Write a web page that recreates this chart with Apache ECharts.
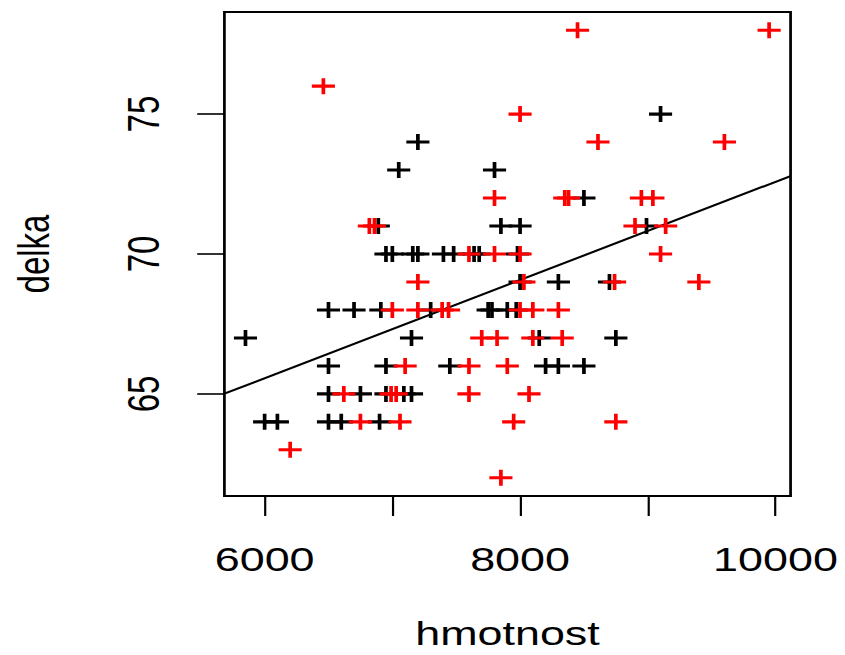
<!DOCTYPE html>
<html>
<head>
<meta charset="utf-8">
<script src="https://cdn.jsdelivr.net/npm/echarts@6/dist/echarts.min.js"></script>
<style>
html,body{margin:0;padding:0;background:#fff;overflow:hidden;}
#c{width:621.3px;height:655px;transform:scaleX(1.36);transform-origin:0 0;}
</style>
</head>
<body>
<div id="c"></div>
<script>
// black points (hmotnost, delka)
const blackX = [9100, 7200, 7050, 7800, 8500,
  6890, 7850, 8000, 8990,
  6950, 7000, 7160, 7200, 7400, 7480, 7640, 7680, 7980,
  8000, 8300, 8700,
  6500, 6700, 6910, 7300, 7750, 7780, 7900, 7970,
  5850, 7150, 8150, 8750,
  6500, 6950, 7450, 8200, 8300, 8500,
  6500, 6750, 6950, 7090, 7150,
  6000, 6100, 6500, 6600, 6900];
const blackY = [75, 74, 73, 73, 72,
  71, 71, 71, 71,
  70, 70, 70, 70, 70, 70, 70, 70, 70,
  69, 69, 69,
  68, 68, 68, 68, 68, 68, 68, 68,
  67, 67, 67, 67,
  66, 66, 66, 66, 66, 66,
  65, 65, 65, 65, 65,
  64, 64, 64, 64, 64];
// red points
const redX = [8450, 9950, 6460, 8000, 8610, 9600,
  7800, 8350, 8380, 8950, 9040,
  6820, 6860, 8900, 9140,
  7600, 7800, 8000, 9100,
  7200, 8030, 8740, 9400,
  7000, 7200, 7390, 7440, 8000, 8100, 8300,
  7700, 7820, 8100, 8330,
  7100, 7600, 7900,
  6620, 6990, 7030, 7600, 8070,
  6750, 7060, 7950, 8750,
  6200, 7850];
const redY = [78, 78, 76, 75, 74, 74,
  72, 72, 72, 72, 72,
  71, 71, 71, 71,
  70, 70, 70, 70,
  69, 69, 69, 69,
  68, 68, 68, 68, 68, 68, 68,
  67, 67, 67, 67,
  66, 66, 66,
  65, 65, 65, 65, 65,
  64, 64, 64, 64,
  63, 62];
// fitted line delka = a + b * hmotnost
const lineA = 55.03;
const lineB = 0.001755;
const xRange = [5685, 10118];
const yRange = [61.35, 78.65];
const xTicks = [6000, 7000, 8000, 9000, 10000];
const xLabels = [6000, 8000, 10000];
const yTicks = [65, 70, 75];

const pair = (xs, ys) => xs.map((x, i) => [x, ys[i]]);
const font = "'Liberation Sans', Arial, Helvetica, sans-serif";
const plus = 'path://M0,4.05H10V5.95H0Z M4.2,0H5.8V10H4.2Z';

const chart = echarts.init(document.getElementById('c'), null, {renderer: 'svg'});
chart.setOption({
  animation: false,
  grid: {left: 164.7, right: 39.7, top: 12, bottom: 153, show: true,
         borderColor: '#000', borderWidth: 2, backgroundColor: 'transparent'},
  xAxis: {
    type: 'value', min: xRange[0], max: xRange[1],
    name: 'hmotnost', nameLocation: 'middle', nameGap: 121,
    nameTextStyle: {fontFamily: font, fontSize: 33, color: '#000'},
    axisLine: {show: false},
    splitLine: {show: false},
    axisTick: {show: true, customValues: xTicks, length: 20, lineStyle: {color: '#000', width: 1.6}},
    axisLabel: {customValues: xLabels, margin: 47, fontFamily: font, fontSize: 33, color: '#000',
                formatter: v => String(v)}
  },
  yAxis: {
    type: 'value', min: yRange[0], max: yRange[1],
    name: 'delka', nameLocation: 'middle', nameGap: 124, nameRotate: 90,
    nameTextStyle: {fontFamily: font, fontSize: 33, color: '#000'},
    axisLine: {show: false},
    splitLine: {show: false},
    axisTick: {show: true, customValues: yTicks, length: 20, lineStyle: {color: '#000', width: 1.6}},
    axisLabel: {customValues: yTicks, rotate: 90, margin: 43, fontFamily: font, fontSize: 33, color: '#000',
                formatter: v => String(v)}
  },
  series: [
    {type: 'line', data: xRange.map(x => [x, lineA + lineB * x]), symbol: 'none',
     lineStyle: {color: '#000', width: 2}, silent: true, z: 3},
    {type: 'scatter', data: pair(blackX, blackY), symbol: plus, symbolSize: [17, 16],
     itemStyle: {color: '#000', opacity: 1}, z: 4},
    {type: 'scatter', data: pair(redX, redY), symbol: plus, symbolSize: [17, 16],
     itemStyle: {color: '#ff0000', opacity: 1}, z: 5}
  ]
});
</script>
</body>
</html>
